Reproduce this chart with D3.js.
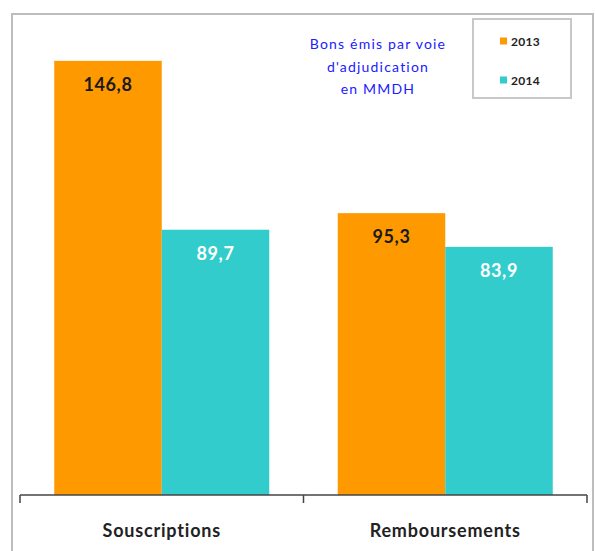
<!DOCTYPE html>
<html><head><meta charset="utf-8">
<script src="https://cdn.jsdelivr.net/npm/d3@7"></script>
<style>body{margin:0;background:#fff}svg{display:block}</style>
</head><body>
<script>
const categories = ["Souscriptions", "Remboursements"];
const seriesNames = ["2013", "2014"];
const values2013 = [146.8, 95.3];
const values2014 = [89.7, 83.9];
const valueLabels2013 = ["146,8", "95,3"];
const valueLabels2014 = ["89,7", "83,9"];
const titleLines = ["Bons émis par voie", "d'adjudication", "en MMDH"];
const colors = ["#FF9900", "#33CCCC"];
const labelColors = ["#1a1a1a", "#ffffff"];

const W = 595, H = 551;
const svg = d3.select("body").append("svg").attr("width", W).attr("height", H);
const font = "Lato, 'Open Sans', sans-serif";

// outer frame
svg.append("rect").attr("x", 12).attr("y", 14).attr("width", 581).attr("height", 560)
  .attr("fill", "none").attr("stroke", "#bdbdbd").attr("stroke-width", 2);

const x0 = d3.scaleBand().domain(categories).range([20, 587]).paddingInner(0.2416).paddingOuter(0.1208);
const x1 = d3.scaleBand().domain(seriesNames).range([0, x0.bandwidth()]);
const y = d3.scaleLinear().domain([0, 150]).range([495, 51.4]);

const data = categories.map((c, i) => ({cat: c, vals: [
  {s: "2013", v: values2013[i], lab: valueLabels2013[i], k: 0},
  {s: "2014", v: values2014[i], lab: valueLabels2014[i], k: 1}
]}));

const g = svg.append("g");
const groups = g.selectAll("g.grp").data(data).join("g")
  .attr("transform", d => `translate(${x0(d.cat)},0)`);
groups.selectAll("rect").data(d => d.vals).join("rect")
  .attr("x", d => x1(d.s)).attr("width", x1.bandwidth())
  .attr("y", d => y(d.v)).attr("height", d => y(0) - y(d.v))
  .attr("fill", d => colors[d.k]);
groups.selectAll("text").data(d => d.vals).join("text")
  .attr("x", d => x1(d.s) + x1.bandwidth() / 2)
  .attr("y", d => y(d.v) + 30)
  .attr("text-anchor", "middle")
  .attr("font-family", font).attr("font-weight", "bold").attr("font-size", 18)
  .attr("letter-spacing", 0.6)
  .attr("fill", d => labelColors[d.k])
  .text(d => d.lab);

// axis
const axisG = svg.append("g").attr("transform", `translate(0,${y(0)})`);
axisG.append("line").attr("x1", 20).attr("x2", 587).attr("y1", 0).attr("y2", 0)
  .attr("stroke", "#444").attr("stroke-width", 1.5);
const tickXs = [20, ...categories.map(c => x0(c) + x0.bandwidth() + x0.step() * x0.paddingInner() / 2).slice(0, -1), 587];
axisG.selectAll("line.tick").data(tickXs).join("line").attr("class", "tick")
  .attr("x1", d => d).attr("x2", d => d).attr("y1", 0).attr("y2", 8)
  .attr("stroke", "#444").attr("stroke-width", 1.5);
axisG.selectAll("text.cat").data(categories).join("text").attr("class", "cat")
  .attr("x", d => x0(d) + x0.bandwidth() / 2).attr("y", 42)
  .attr("text-anchor", "middle")
  .attr("font-family", font).attr("font-weight", "bold").attr("font-size", 18)
  .attr("letter-spacing", 0.8)
  .attr("fill", "#222").text(d => d);

// title
svg.append("text").attr("font-family", font).attr("font-size", 14).attr("fill", "#2020ff")
  .attr("text-anchor", "middle").attr("letter-spacing", 1.2)
  .selectAll("tspan").data(titleLines).join("tspan")
  .attr("x", 378).attr("y", (d, i) => 49 + i * 22.5).text(d => d);

// legend
svg.append("rect").attr("x", 473).attr("y", 19).attr("width", 98).attr("height", 79)
  .attr("fill", "#fff").attr("stroke", "#c8c8c8").attr("stroke-width", 2);
const leg = svg.selectAll("g.leg").data(seriesNames).join("g").attr("class", "leg")
  .attr("transform", (d, i) => `translate(500,${41 + i * 39})`);
leg.append("rect").attr("x", 0).attr("y", -3.5).attr("width", 7).attr("height", 7)
  .attr("fill", (d, i) => colors[i]);
leg.append("text").attr("x", 11).attr("y", 4.5).attr("font-family", font)
  .attr("font-size", 12).attr("font-weight", "bold").attr("letter-spacing", 0.3)
  .attr("fill", "#222").text(d => d);
</script>
</body></html>
